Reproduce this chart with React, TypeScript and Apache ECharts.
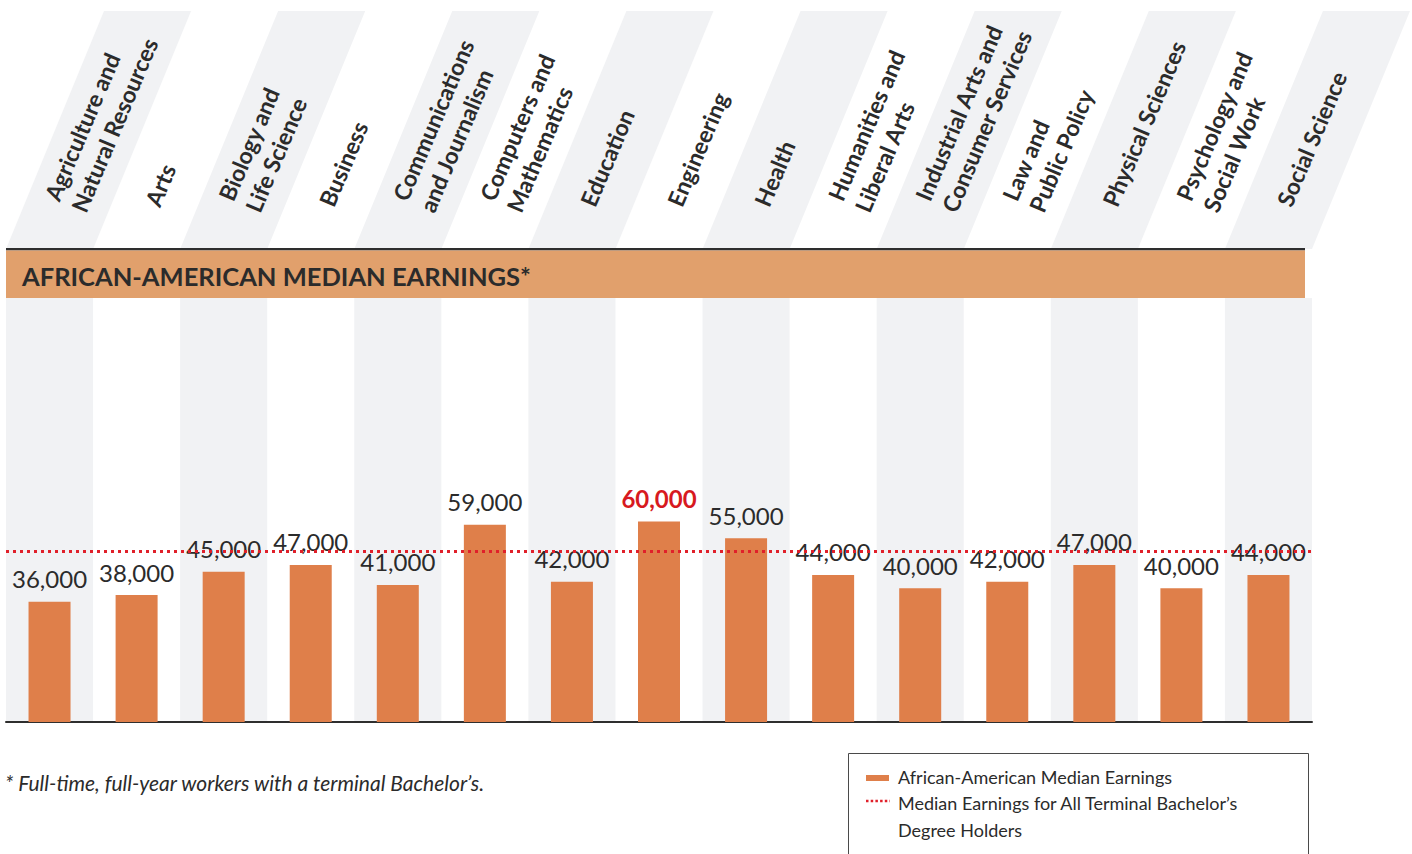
import React, { useEffect, useRef } from "react";
import * as echarts from "echarts";

const categories = [
  "Agriculture and\nNatural Resources",
  "Arts",
  "Biology and\nLife Science",
  "Business",
  "Communications\nand Journalism",
  "Computers and\nMathematics",
  "Education",
  "Engineering",
  "Health",
  "Humanities and\nLiberal Arts",
  "Industrial Arts and\nConsumer Services",
  "Law and\nPublic Policy",
  "Physical Sciences",
  "Psychology and\nSocial Work",
  "Social Science",
];
const earnings = [36000, 38000, 45000, 47000, 41000, 59000, 42000, 60000, 55000, 44000, 40000, 42000, 47000, 40000, 44000];
const allBachelorsMedian = 51000;

const titleText = "AFRICAN-AMERICAN MEDIAN EARNINGS*";
const footnoteText = "* Full-time, full-year workers with a terminal Bachelor\u2019s.";
const legendBarText = "African-American Median Earnings";
const legendLineText = "Median Earnings for All Terminal Bachelor\u2019s\nDegree Holders";

const W = 1412;
const H = 854;
const GRID_L = 6;
const GRID_R = 1312;
const AXIS_Y = 722;
const HEAD_TOP = 11;
const HEAD_LINE_Y = 248;
const BAND_BOT = 298;
const SLANT = 98;

const BAR_COLOR = "#df7f4a";
const BAND_COLOR = "#e1a06c";
const STRIPE = "#f1f2f4";
const TEXT = "#2b2b2b";
const RED = "#e0202a";

const fmt = (v: number) => v.toString().replace(/\B(?=(\d{3})+(?!\d))/g, ",");

export default function App() {
  const ref = useRef<HTMLDivElement>(null);
  useEffect(() => {
    document.body.style.margin = "0";
    const chart = echarts.init(ref.current!, null, { renderer: "svg" });
    const maxIdx = earnings.indexOf(Math.max(...earnings));
    const option: any = {
      animation: false,
      grid: [
        { left: GRID_L, right: W - GRID_R, top: 321, bottom: H - AXIS_Y },
        { left: GRID_L + 15, right: W - GRID_R - 15, top: 205, height: 10 },
      ],
      xAxis: [
        {
          type: "category",
          gridIndex: 0,
          data: categories,
          axisLine: { show: true, lineStyle: { color: "#2e2e2e", width: 2 } },
          axisTick: { show: false },
          axisLabel: { show: false },
          splitLine: { show: false },
        },
        {
          type: "category",
          gridIndex: 1,
          position: "top",
          data: categories,
          axisLine: { show: false },
          axisTick: { show: false },
          axisLabel: {
            interval: 0,
            rotate: 67,
            margin: 0,
            fontFamily: "Lato",
            fontSize: 23,
            fontWeight: "bold",
            lineHeight: 29,
            color: TEXT,
          },
        },
        { type: "value", gridIndex: 0, min: 0, max: 1, show: false },
      ],
      yAxis: [
        { type: "value", gridIndex: 0, min: 0, max: 120000, show: false },
        { type: "value", gridIndex: 1, show: false },
      ],
      series: [
        {
          type: "custom",
          xAxisIndex: 0,
          yAxisIndex: 0,
          data: categories.map((_, i) => [i, 0]),
          encode: { x: 0, y: 1 },
          clip: false,
          silent: true,
          z: 0,
          renderItem: (params: any, api: any) => {
            if (params.dataIndex % 2 === 1) return { type: "group", children: [] };
            const cx = api.coord([api.value(0), 0])[0];
            const bw = api.size([1, 0])[0];
            const x0 = cx - bw / 2;
            const x1 = cx + bw / 2;
            return {
              type: "group",
              children: [
                {
                  type: "rect",
                  shape: { x: x0, y: BAND_BOT, width: bw, height: AXIS_Y - BAND_BOT },
                  style: { fill: STRIPE },
                },
                {
                  type: "polygon",
                  shape: {
                    points: [
                      [x0, HEAD_LINE_Y + 1],
                      [x1, HEAD_LINE_Y + 1],
                      [x1 + SLANT, HEAD_TOP],
                      [x0 + SLANT, HEAD_TOP],
                    ],
                  },
                  style: { fill: STRIPE },
                },
              ],
            };
          },
        },
        {
          type: "bar",
          xAxisIndex: 0,
          yAxisIndex: 0,
          barWidth: 42,
          z: 2,
          itemStyle: { color: BAR_COLOR },
          data: earnings.map((v, i) =>
            i === maxIdx
              ? { value: v, label: { color: "#d71920", fontWeight: "bold" } }
              : v
          ),
          label: {
            show: true,
            position: "top",
            distance: 11,
            fontFamily: "Lato",
            fontSize: 24,
            color: TEXT,
            formatter: (p: any) => fmt(p.value),
          },
        },
        {
          type: "line",
          xAxisIndex: 2,
          yAxisIndex: 0,
          data: [
            [0, allBachelorsMedian],
            [1, allBachelorsMedian],
          ],
          symbol: "none",
          silent: true,
          z: 5,
          lineStyle: { color: RED, width: 3, type: [3, 4] },
        },
      ],
      graphic: [
        {
          type: "rect",
          z: 10,
          shape: { x: GRID_L, y: HEAD_LINE_Y, width: 1299, height: 2.5 },
          style: { fill: "#2e2e2e" },
        },
        {
          type: "rect",
          z: 10,
          shape: { x: GRID_L, y: HEAD_LINE_Y + 2.5, width: 1299, height: BAND_BOT - HEAD_LINE_Y - 2.5 },
          style: { fill: BAND_COLOR },
        },
        {
          type: "text",
          z: 11,
          x: 22,
          y: 276,
          style: {
            text: titleText,
            fontFamily: "Lato",
            fontSize: 25.5,
            fontWeight: "bold",
            fill: TEXT,
            verticalAlign: "middle",
          },
        },
        {
          type: "text",
          z: 11,
          x: 5,
          y: 782,
          style: {
            text: footnoteText,
            fontFamily: "Lato",
            fontSize: 21,
            fontStyle: "italic",
            fill: TEXT,
            verticalAlign: "middle",
          },
        },
        {
          type: "rect",
          z: 11,
          shape: { x: 848.5, y: 753.5, width: 460, height: 120 },
          style: { fill: "none", stroke: "#4a4a4a", lineWidth: 1 },
        },
        {
          type: "rect",
          z: 11,
          shape: { x: 866, y: 775, width: 23, height: 6 },
          style: { fill: BAR_COLOR },
        },
        {
          type: "text",
          z: 11,
          x: 898,
          y: 777,
          style: {
            text: legendBarText,
            fontFamily: "Lato",
            fontSize: 18,
            fill: TEXT,
            verticalAlign: "middle",
          },
        },
        {
          type: "line",
          z: 11,
          shape: { x1: 866, y1: 801, x2: 890, y2: 801 },
          style: { stroke: RED, lineWidth: 2.5, lineDash: [2.5, 2.2] },
        },
        {
          type: "text",
          z: 11,
          x: 898,
          y: 789.5,
          style: {
            text: legendLineText,
            fontFamily: "Lato",
            fontSize: 18,
            lineHeight: 27,
            fill: TEXT,
            verticalAlign: "top",
          },
        },
      ],
    };
    chart.setOption(option);
    return () => chart.dispose();
  }, []);
  return <div ref={ref} style={{ width: W, height: H }} />;
}
